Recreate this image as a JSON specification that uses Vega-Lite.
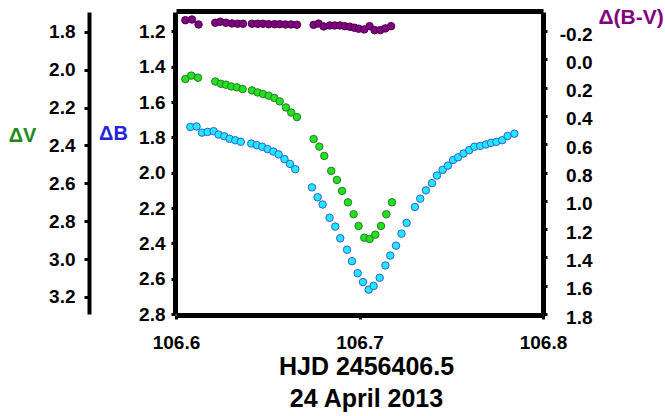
{
  "$schema": "https://vega.github.io/schema/vega-lite/v6.json",
  "width": 367,
  "height": 302,
  "autosize": "none",
  "padding": {"left": 176, "top": 12, "right": 122, "bottom": 102},
  "background": "white",
  "config": {
    "view": {"stroke": null},
    "axis": {
      "labelFont": "Liberation Sans",
      "labelFontWeight": "bold",
      "labelFontSize": 19,
      "labelColor": "black",
      "titleFont": "Liberation Sans",
      "titleFontWeight": "bold",
      "tickColor": "black",
      "domainColor": "black",
      "tickWidth": 3,
      "grid": false
    }
  },
  "datasets": {
    "V": [
      {"hjd": 106.6051, "dV": 2.049}, {"hjd": 106.6083, "dV": 2.031}, {"hjd": 106.6120, "dV": 2.042},
      {"hjd": 106.6214, "dV": 2.062}, {"hjd": 106.6245, "dV": 2.074}, {"hjd": 106.6272, "dV": 2.079},
      {"hjd": 106.6301, "dV": 2.088}, {"hjd": 106.6332, "dV": 2.093}, {"hjd": 106.6363, "dV": 2.102},
      {"hjd": 106.6414, "dV": 2.109}, {"hjd": 106.6445, "dV": 2.120}, {"hjd": 106.6474, "dV": 2.128},
      {"hjd": 106.6505, "dV": 2.137}, {"hjd": 106.6536, "dV": 2.149}, {"hjd": 106.6565, "dV": 2.167},
      {"hjd": 106.6599, "dV": 2.199}, {"hjd": 106.6628, "dV": 2.226}, {"hjd": 106.6659, "dV": 2.250},
      {"hjd": 106.6750, "dV": 2.366}, {"hjd": 106.6781, "dV": 2.406}, {"hjd": 106.6808, "dV": 2.455},
      {"hjd": 106.6846, "dV": 2.534}, {"hjd": 106.6877, "dV": 2.582}, {"hjd": 106.6905, "dV": 2.640},
      {"hjd": 106.6937, "dV": 2.700}, {"hjd": 106.6968, "dV": 2.763}, {"hjd": 106.6995, "dV": 2.825},
      {"hjd": 106.7026, "dV": 2.887}, {"hjd": 106.7055, "dV": 2.894}, {"hjd": 106.7086, "dV": 2.871},
      {"hjd": 106.7117, "dV": 2.825}, {"hjd": 106.7146, "dV": 2.763}, {"hjd": 106.7177, "dV": 2.700}
    ],
    "B": [
      {"hjd": 106.6078, "dB": 1.741}, {"hjd": 106.6112, "dB": 1.738}, {"hjd": 106.6142, "dB": 1.773},
      {"hjd": 106.6172, "dB": 1.769}, {"hjd": 106.6205, "dB": 1.765}, {"hjd": 106.6232, "dB": 1.784},
      {"hjd": 106.6263, "dB": 1.794}, {"hjd": 106.6292, "dB": 1.808}, {"hjd": 106.6323, "dB": 1.816},
      {"hjd": 106.6353, "dB": 1.825}, {"hjd": 106.6410, "dB": 1.835}, {"hjd": 106.6440, "dB": 1.844},
      {"hjd": 106.6470, "dB": 1.853}, {"hjd": 106.6499, "dB": 1.866}, {"hjd": 106.6530, "dB": 1.880},
      {"hjd": 106.6559, "dB": 1.896}, {"hjd": 106.6591, "dB": 1.923}, {"hjd": 106.6621, "dB": 1.950},
      {"hjd": 106.6650, "dB": 1.980}, {"hjd": 106.6741, "dB": 2.083}, {"hjd": 106.6772, "dB": 2.139},
      {"hjd": 106.6799, "dB": 2.180}, {"hjd": 106.6837, "dB": 2.255}, {"hjd": 106.6868, "dB": 2.305},
      {"hjd": 106.6895, "dB": 2.371}, {"hjd": 106.6932, "dB": 2.436}, {"hjd": 106.6959, "dB": 2.501},
      {"hjd": 106.6990, "dB": 2.569}, {"hjd": 106.7019, "dB": 2.619}, {"hjd": 106.7050, "dB": 2.662},
      {"hjd": 106.7077, "dB": 2.641}, {"hjd": 106.7110, "dB": 2.595}, {"hjd": 106.7141, "dB": 2.525},
      {"hjd": 106.7168, "dB": 2.469}, {"hjd": 106.7199, "dB": 2.413}, {"hjd": 106.7229, "dB": 2.345},
      {"hjd": 106.7257, "dB": 2.284}, {"hjd": 106.7302, "dB": 2.194}, {"hjd": 106.7331, "dB": 2.147},
      {"hjd": 106.7362, "dB": 2.100}, {"hjd": 106.7395, "dB": 2.059}, {"hjd": 106.7422, "dB": 2.016},
      {"hjd": 106.7453, "dB": 1.984}, {"hjd": 106.7482, "dB": 1.960}, {"hjd": 106.7510, "dB": 1.928},
      {"hjd": 106.7537, "dB": 1.913}, {"hjd": 106.7567, "dB": 1.891}, {"hjd": 106.7598, "dB": 1.872},
      {"hjd": 106.7626, "dB": 1.853}, {"hjd": 106.7658, "dB": 1.848}, {"hjd": 106.7689, "dB": 1.840},
      {"hjd": 106.7717, "dB": 1.831}, {"hjd": 106.7746, "dB": 1.825}, {"hjd": 106.7777, "dB": 1.816},
      {"hjd": 106.7807, "dB": 1.792}, {"hjd": 106.7844, "dB": 1.779}
    ],
    "BV": [
      {"hjd": 106.6051, "dBV": -0.277}, {"hjd": 106.6087, "dBV": -0.282}, {"hjd": 106.6123, "dBV": -0.247},
      {"hjd": 106.6214, "dBV": -0.259}, {"hjd": 106.6241, "dBV": -0.266}, {"hjd": 106.6272, "dBV": -0.259},
      {"hjd": 106.6305, "dBV": -0.254}, {"hjd": 106.6336, "dBV": -0.252}, {"hjd": 106.6365, "dBV": -0.252},
      {"hjd": 106.6414, "dBV": -0.252}, {"hjd": 106.6445, "dBV": -0.252}, {"hjd": 106.6474, "dBV": -0.252},
      {"hjd": 106.6505, "dBV": -0.249}, {"hjd": 106.6537, "dBV": -0.249}, {"hjd": 106.6565, "dBV": -0.249},
      {"hjd": 106.6596, "dBV": -0.247}, {"hjd": 106.6627, "dBV": -0.247}, {"hjd": 106.6659, "dBV": -0.245},
      {"hjd": 106.6750, "dBV": -0.244}, {"hjd": 106.6777, "dBV": -0.253}, {"hjd": 106.6805, "dBV": -0.233},
      {"hjd": 106.6838, "dBV": -0.240}, {"hjd": 106.6865, "dBV": -0.240}, {"hjd": 106.6893, "dBV": -0.240},
      {"hjd": 106.6920, "dBV": -0.235}, {"hjd": 106.6947, "dBV": -0.231}, {"hjd": 106.6972, "dBV": -0.224},
      {"hjd": 106.6995, "dBV": -0.217}, {"hjd": 106.7026, "dBV": -0.212}, {"hjd": 106.7055, "dBV": -0.235},
      {"hjd": 106.7082, "dBV": -0.207}, {"hjd": 106.7113, "dBV": -0.207}, {"hjd": 106.7141, "dBV": -0.219},
      {"hjd": 106.7172, "dBV": -0.235}
    ]
  },
  "resolve": {
    "scale": {"y": "independent"},
    "axis": {"x": "independent", "y": "independent"}
  },
  "layer": [
    {
      "data": {"name": "V"},
      "mark": {"type": "circle", "size": 56, "fill": "#22e11e", "stroke": "#2a7a2a", "strokeWidth": 1, "opacity": 1},
      "encoding": {
        "x": {
          "field": "hjd", "type": "quantitative",
          "scale": {"domain": [106.6, 106.8], "nice": false, "zero": false},
          "axis": {
            "orient": "bottom", "offset": 1, "values": [106.6, 106.7, 106.8], "format": ".1f",
            "tickSize": 4, "labelPadding": 14, "labelBaseline": "top", "labelFlush": false,
            "domain": true, "domainWidth": 5,
            "title": ["HJD 2456406.5", "24 April 2013"],
            "titleFontSize": 25, "titleLineHeight": 32, "titleColor": "black",
            "titleX": 190, "titleY": 59, "titleAlign": "center", "titleBaseline": "alphabetic"
          }
        },
        "y": {
          "field": "dV", "type": "quantitative",
          "scale": {"domain": [1.695, 3.29], "reverse": true, "nice": false, "zero": false},
          "axis": {
            "orient": "left", "offset": 87,
            "values": [1.8, 2.0, 2.2, 2.4, 2.6, 2.8, 3.0, 3.2], "format": ".1f",
            "tickSize": 5, "labelPadding": 9, "domainWidth": 4,
            "title": "ΔV", "titleAngle": 0, "titleX": -67, "titleY": 123,
            "titleAlign": "center", "titleBaseline": "middle",
            "titleColor": "#1a8a1a", "titleFontSize": 20
          }
        }
      }
    },
    {
      "data": {"name": "B"},
      "mark": {"type": "circle", "size": 56, "fill": "#1ee9ff", "stroke": "#3b5bd6", "strokeWidth": 1, "opacity": 1},
      "encoding": {
        "x": {
          "field": "hjd", "type": "quantitative",
          "axis": {"orient": "top", "offset": 1, "values": [106.7], "ticks": false, "labels": false,
                   "domain": true, "domainWidth": 5, "title": null}
        },
        "y": {
          "field": "dB", "type": "quantitative",
          "scale": {"domain": [1.09, 2.8], "reverse": true, "nice": false, "zero": false},
          "axis": {
            "orient": "left", "offset": 1,
            "values": [1.2, 1.4, 1.6, 1.8, 2.0, 2.2, 2.4, 2.6, 2.8], "format": ".1f",
            "tickSize": 4, "labelPadding": 6, "domain": true, "domainWidth": 5,
            "title": "ΔB", "titleAngle": 0, "titleX": -62, "titleY": 121,
            "titleAlign": "center", "titleBaseline": "middle",
            "titleColor": "#2222dd", "titleFontSize": 20
          }
        }
      }
    },
    {
      "data": {"name": "BV"},
      "mark": {"type": "circle", "size": 56, "fill": "#800080", "stroke": "#4a004a", "strokeWidth": 1, "opacity": 1},
      "encoding": {
        "x": {"field": "hjd", "type": "quantitative", "axis": null},
        "y": {
          "field": "dBV", "type": "quantitative",
          "scale": {"domain": [-0.335, 1.8], "reverse": true, "nice": false, "zero": false},
          "axis": {
            "orient": "right",
            "values": [-0.2, 0.0, 0.2, 0.4, 0.6, 0.8, 1.0, 1.2, 1.4, 1.6, 1.8],
            "labelExpr": "replace(format(datum.value, '.1f'), '\u2212', '-')",
            "tickSize": 4, "labelPadding": 45, "labelAlign": "right", "labelOffset": 3,
            "domainWidth": 5,
            "title": "Δ(B-V)", "titleAngle": 0, "titleX": 55, "titleY": 5,
            "titleAlign": "left", "titleBaseline": "middle",
            "titleColor": "#800080", "titleFontSize": 21
          }
        }
      }
    }
  ]
}
